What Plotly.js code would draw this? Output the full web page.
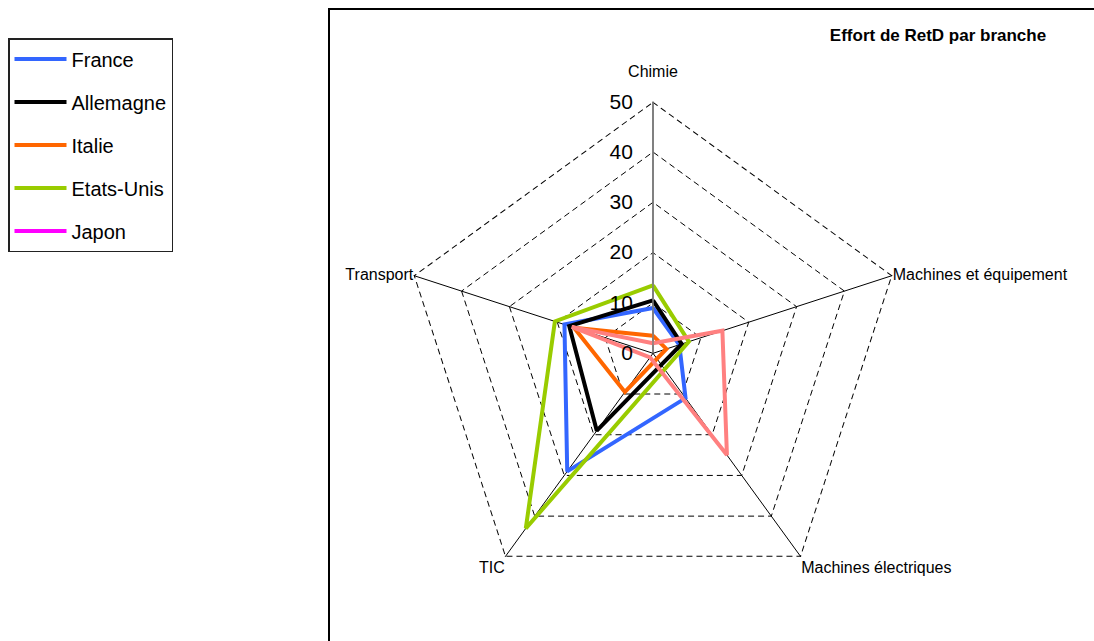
<!DOCTYPE html>
<html>
<head>
<meta charset="utf-8">
<script src="https://cdn.plot.ly/plotly-3.0.1.min.js"></script>
<style>html,body{margin:0;padding:0;background:#fff;}#chart{width:1094px;height:641px;}</style>
</head>
<body>
<div id="chart"></div>
<script>
// Categories (branches)
const categories = ['Chimie', 'Machines et équipement', 'Machines électriques', 'TIC', 'Transport'];
// Series values (null = missing value)
const france    = [9,    5.5, 11,   29, 18.5];
const allemagne = [10.5, 6,   null, 19, 17.5];
const italie    = [3.5,  2.8, null, 9.5, 16.5];
const etatsUnis = [13.5, 7.5, null, 43, 20.5];
const japon     = [2,    14.5, 25,  1,  17];
// Radial ticks
const radialTicks = [0, 10, 20, 30, 40, 50];
const radialMax = 50;

function closeLoop(arr) { return arr.concat([arr[0]]); }

const series = [
  {name: 'France', r: france, color: '#3366ff', legendColor: '#3366ff'},
  {name: 'Allemagne', r: allemagne, color: '#000000', legendColor: '#000000'},
  {name: 'Italie', r: italie, color: '#ff6600', legendColor: '#ff6600'},
  {name: 'Etats-Unis', r: etatsUnis, color: '#99cc00', legendColor: '#99cc00'},
  {name: 'Japon', r: japon, color: '#ff8080', legendColor: '#ff00ff'}
];

const traces = [];
// outer dashed pentagon at the maximum of the radial scale
traces.push({
  type: 'scatterpolar', mode: 'lines',
  r: closeLoop(categories.map(() => radialMax)),
  theta: closeLoop(categories),
  line: {color: '#000', width: 2, dash: '6px,4px'},
  hoverinfo: 'skip', showlegend: false
});
series.forEach((s, i) => {
  const same = s.color === s.legendColor;
  traces.push({
    type: 'scatterpolar', mode: 'lines',
    name: s.name,
    r: closeLoop(s.r),
    theta: closeLoop(categories),
    connectgaps: true,
    line: {color: s.color, width: 4},
    showlegend: same,
    legendgroup: 'g' + i
  });
  if (!same) {
    traces.push({
      type: 'scatterpolar', mode: 'lines',
      name: s.name,
      r: [null], theta: [categories[0]],
      line: {color: s.legendColor, width: 4},
      showlegend: true,
      legendgroup: 'g' + i,
      hoverinfo: 'skip'
    });
  }
});

const W = 1094, H = 641;
const cx = 653, cy = 353.3, R = 251.6;

const angTickText = categories.map((c, i) => i === 0 ? c + '<br> ' : c);

const layout = {
  width: W, height: H,
  margin: {l: 0, r: 0, t: 0, b: 0},
  paper_bgcolor: '#fff',
  font: {family: 'Liberation Sans, Arial, sans-serif', color: '#000'},
  title: {
    text: '<b>Effort de RetD par branche</b>',
    font: {size: 17, family: 'Liberation Sans, Arial, sans-serif', color: '#000'},
    x: 938 / W, xanchor: 'center', xref: 'paper',
    y: 1 - 35 / H, yanchor: 'middle', yref: 'paper'
  },
  showlegend: true,
  legend: {
    x: 8 / W, xanchor: 'left', y: 1 - 38 / H, yanchor: 'top',
    bordercolor: '#222', borderwidth: 1.5, bgcolor: '#fff',
    font: {size: 20, family: 'Liberation Sans, Arial, sans-serif', color: '#000'},
    tracegroupgap: 14,
    traceorder: 'grouped',
    itemwidth: 52
  },
  polar: {
    domain: {x: [(cx - R) / W, (cx + R) / W], y: [(H - cy - R) / H, (H - cy + R) / H]},
    gridshape: 'linear',
    bgcolor: '#fff',
    angularaxis: {
      rotation: 90, direction: 'clockwise',
      categoryorder: 'array', categoryarray: categories,
      tickmode: 'array', tickvals: categories, ticktext: angTickText,
      showline: false,
      showgrid: true, gridcolor: '#000', gridwidth: 1,
      ticks: '', tickfont: {size: 16, color: '#000'}
    },
    radialaxis: {
      range: [0, radialMax], angle: 90,
      tickvals: radialTicks, ticktext: radialTicks.map(String),
      showline: true, linecolor: '#808080', linewidth: 1.5,
      showgrid: true, gridcolor: '#000', gridwidth: 1, griddash: '6px,4px',
      ticks: 'outside', ticklen: 12, tickcolor: 'rgba(0,0,0,0)',
      side: 'counterclockwise',
      tickangle: 90,
      tickfont: {size: 21, color: '#000'}
    }
  },
  shapes: [{
    type: 'rect', xref: 'paper', yref: 'paper',
    x0: 329 / W, x1: 1.01, y0: -0.01, y1: 1 - 9 / H,
    line: {color: '#000', width: 2}, fillcolor: 'rgba(0,0,0,0)', layer: 'below'
  }]
};

Plotly.newPlot('chart', traces, layout, {displayModeBar: false, staticPlot: true});
</script>
</body>
</html>
